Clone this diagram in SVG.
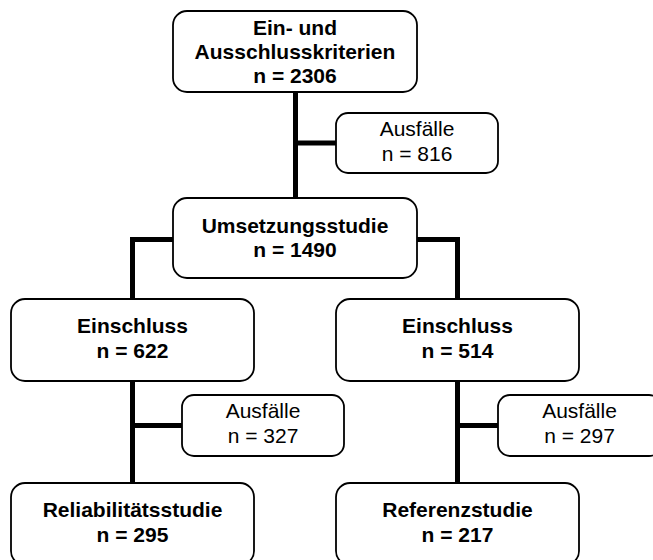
<svg xmlns="http://www.w3.org/2000/svg" width="653" height="560" viewBox="0 0 653 560">
<style>
.box{fill:#fff;stroke:#000;stroke-width:1.8}
.t{font-family:"Liberation Sans",Arial,sans-serif;font-size:21px;text-anchor:middle;fill:#000}
.b{font-weight:bold}
.c{fill:none;stroke:#000;stroke-width:5;stroke-linecap:butt;stroke-linejoin:miter}
</style>
<rect width="653" height="560" fill="#fff"/>
<g id="connectors">
<path class="c" d="M295.5,92 V198"/>
<path class="c" d="M295.5,143 H336"/>
<path class="c" d="M173,239.5 H132.5 V299"/>
<path class="c" d="M417,239.5 H457.5 V299"/>
<path class="c" d="M132.5,381 V483"/>
<path class="c" d="M132.5,425.5 H182"/>
<path class="c" d="M457.5,381 V483"/>
<path class="c" d="M457.5,425.5 H498"/>
</g>
<g id="n-kriterien">
<rect class="box" x="173" y="11" width="244" height="81" rx="14"/>
<text class="t b" x="295" y="35">Ein- und</text>
<text class="t b" x="295" y="59">Ausschlusskriterien</text>
<text class="t b" x="295" y="83">n = 2306</text>
</g>
<g id="n-ausfaelle1">
<rect class="box" x="336" y="113" width="162" height="60" rx="12"/>
<text class="t" x="417" y="136">Ausfälle</text>
<text class="t" x="417" y="161">n = 816</text>
</g>
<g id="n-umsetzung">
<rect class="box" x="173" y="198" width="244" height="80" rx="14"/>
<text class="t b" x="295" y="233">Umsetzungsstudie</text>
<text class="t b" x="295" y="257">n = 1490</text>
</g>
<g id="n-einschluss-l">
<rect class="box" x="11" y="299" width="243" height="82" rx="14"/>
<text class="t b" x="132.5" y="333">Einschluss</text>
<text class="t b" x="132.5" y="358">n = 622</text>
</g>
<g id="n-einschluss-r">
<rect class="box" x="336" y="299" width="243" height="82" rx="14"/>
<text class="t b" x="457.5" y="333">Einschluss</text>
<text class="t b" x="457.5" y="358">n = 514</text>
</g>
<g id="n-ausfaelle2">
<rect class="box" x="182" y="395" width="162" height="61" rx="12"/>
<text class="t" x="263" y="418">Ausfälle</text>
<text class="t" x="263" y="443">n = 327</text>
</g>
<g id="n-ausfaelle3">
<rect class="box" x="498" y="395" width="163" height="61" rx="12"/>
<text class="t" x="579.5" y="418">Ausfälle</text>
<text class="t" x="579.5" y="443">n = 297</text>
</g>
<g id="n-reliabilitaet">
<rect class="box" x="11" y="483" width="243" height="82" rx="14"/>
<text class="t b" x="132.5" y="517">Reliabilitätsstudie</text>
<text class="t b" x="132.5" y="542">n = 295</text>
</g>
<g id="n-referenz">
<rect class="box" x="336" y="483" width="243" height="82" rx="14"/>
<text class="t b" x="457.5" y="517">Referenzstudie</text>
<text class="t b" x="457.5" y="542">n = 217</text>
</g>
</svg>
